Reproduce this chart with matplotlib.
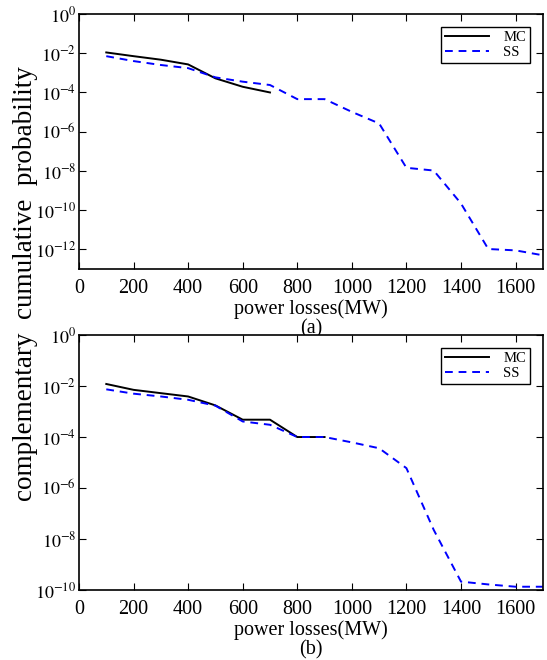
import matplotlib
matplotlib.use('Agg')
import matplotlib.pyplot as plt
import numpy as np

plt.rcParams['font.family'] = ['Liberation Serif', 'DejaVu Serif']
plt.rcParams['mathtext.fontset'] = 'stix'

# data (log10 of probability)
x_mc_a = [100, 200, 300, 400, 500, 600, 700]
mc_a = [-1.96, -2.15, -2.33, -2.57, -3.28, -3.71, -4.0]
x_ss_a = [100, 200, 300, 400, 500, 600, 700, 800, 900, 1000, 1100, 1200, 1300, 1400, 1500, 1600, 1700]
ss_a = [-2.15, -2.4, -2.6, -2.76, -3.23, -3.45, -3.62, -4.34, -4.34, -4.99, -5.58,
        -7.84, -7.98, -9.66, -11.98, -12.05, -12.3]

x_mc_b = [100, 200, 300, 400, 500, 600, 700, 800, 900]
mc_b = [-1.92, -2.15, -2.28, -2.41, -2.76, -3.32, -3.32, -4.0, -4.0]
x_ss_b = [100, 200, 300, 400, 500, 600, 700, 800, 900, 1000, 1100, 1200, 1300, 1400, 1500, 1600, 1700]
ss_b = [-2.13, -2.3, -2.41, -2.54, -2.77, -3.39, -3.52, -4.0, -4.0, -4.21, -4.44,
        -5.22, -7.64, -9.67, -9.78, -9.87, -9.87]

panels = [
    (x_mc_a, mc_a, x_ss_a, ss_a, (1e-13, 1), np.arange(0, -13, -2), '(a)'),
    (x_mc_b, mc_b, x_ss_b, ss_b, (1e-10, 1), np.arange(0, -11, -2), '(b)'),
]

fig = plt.figure(figsize=(5.47, 6.6), dpi=100)
rects = [[0.1444, 0.5924, 0.848, 0.3864], [0.1444, 0.106, 0.848, 0.3864]]

for rect, (xm, ym, xs, ys, ylim, dec, tag) in zip(rects, panels):
    ax = fig.add_axes(rect)
    ax.semilogy(xm, 10.0 ** np.array(ym), color='black', linewidth=1.4, label='MC')
    ax.semilogy(xs, 10.0 ** np.array(ys), color='blue', linestyle='--', linewidth=1.4,
                dashes=(4, 3), label='SS')
    ax.set_xlim(0, 1700)
    ax.set_ylim(*ylim)
    ax.set_yticks([10.0 ** d for d in dec])
    ax.set_yticklabels([r'$10^{%d}$' % d for d in dec], fontsize=13)
    ax.yaxis.set_minor_locator(matplotlib.ticker.NullLocator())
    ax.set_xticks(np.arange(0, 1700, 200))
    ax.tick_params(direction='in', top=True, right=True, length=5, width=0.8)
    ax.tick_params(axis='y', pad=2)
    ax.tick_params(axis='x', labelsize=14.5, pad=7)
    for s in ax.spines.values():
        s.set_linewidth(1.2)
    ax.text(0.5, -40 / 255, 'power losses(MW)', transform=ax.transAxes,
            ha='center', va='center', fontsize=14.5)
    ax.text(0.5, -60 / 255, tag, transform=ax.transAxes,
            ha='center', va='center', fontsize=14.5)
    leg = ax.legend(loc='upper right', fontsize=10.5, fancybox=False, framealpha=1,
                    edgecolor='black', handlelength=3.0, handletextpad=1.0,
                    borderaxespad=0.9, borderpad=0.25, labelspacing=0.15)
    leg.get_frame().set_linewidth(1.0)

fig.text(0.046, 0.5705, 'complementary  cumulative  probability', rotation=90,
         ha='center', va='center', fontsize=19.5)

fig.savefig('out.png', dpi=100)
